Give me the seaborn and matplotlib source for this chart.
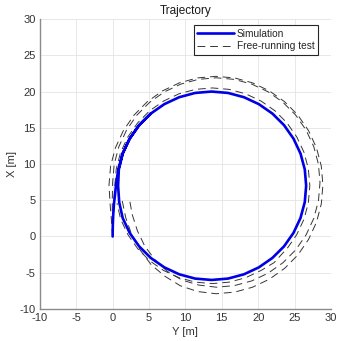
#!/usr/bin/env python3
"""Turning-circle trajectory: simulation against free-running tests."""

import matplotlib
matplotlib.use("Agg")
import matplotlib.pyplot as plt
import seaborn as sns

# simulation track (Y [m], X [m])
SIM_Y = [0.0, 0.02, 0.08, 0.18, 0.35, 0.5, 0.79, 1.38, 2.34, 3.64, 5.24, 7.1,
         9.15, 11.34, 13.6, 15.86, 18.05, 20.1, 21.96, 23.56, 24.86, 25.82,
         26.41, 26.6, 26.41, 25.82, 24.86, 23.56, 21.96, 20.1, 18.05, 15.86,
         13.6, 11.34, 9.15, 7.1, 5.24, 3.64, 2.34, 1.38, 0.9, 0.75, 0.85,
         1.38, 2.34, 3.64, 5.24]
SIM_X = [0.0, 1.5, 3.0, 4.5, 6.0, 7.5, 9.26, 11.45, 13.5, 15.36, 16.96, 18.26,
         19.22, 19.81, 20.0, 19.81, 19.22, 18.26, 16.96, 15.36, 13.5, 11.45,
         9.26, 7.0, 4.74, 2.55, 0.5, -1.36, -2.96, -4.26, -5.22, -5.81,
         -6.0, -5.81, -5.22, -4.26, -2.96, -1.36, 0.5, 2.55, 4.74, 7.0, 9.26,
         11.45, 13.5, 15.36, 16.96]

# free-running tests, three runs
RUN1_Y = [0.0, -0.15, -0.35, -0.5, -0.28, 0.38, 1.47, 2.94, 4.75, 6.85, 9.17,
          11.64, 14.2, 16.76, 19.23, 21.55, 23.65, 25.46, 26.93, 28.02, 28.68,
          28.9, 28.68, 28.02, 26.93, 25.46, 23.65, 21.55, 19.23, 16.76, 14.2,
          11.7, 9.3, 7.2, 5.3, 3.8, 2.6, 1.8, 1.3]
RUN1_X = [0.0, 2.0, 4.5, 7.1, 9.71, 12.23, 14.6, 16.75, 18.59, 20.09, 21.2,
          21.88, 22.1, 21.88, 21.2, 20.09, 18.59, 16.75, 14.6, 12.23, 9.71,
          7.1, 4.49, 1.97, -0.4, -2.55, -4.39, -5.89, -7.0, -7.68, -7.9,
          -7.6, -6.8, -5.5, -3.9, -1.9, 0.3, 2.6, 5.0]
RUN2_Y = [0.0, -0.05, -0.05, 0.0, 0.21, 0.85, 1.91, 3.33, 5.09, 7.12, 9.38,
          11.77, 14.25, 16.73, 19.12, 21.38, 23.41, 25.17, 26.59, 27.65, 28.29,
          28.5, 28.29, 27.65, 26.59, 25.17, 23.41, 21.38, 19.12, 16.73, 14.25,
          11.8, 9.5, 7.5, 5.8, 4.4, 3.4, 2.7, 2.3]
RUN2_X = [0.0, 2.5, 5.0, 7.45, 9.96, 12.39, 14.68, 16.74, 18.52, 19.96, 21.03,
          21.68, 21.9, 21.68, 21.03, 19.96, 18.52, 16.74, 14.68, 12.39, 9.96,
          7.45, 4.94, 2.51, 0.22, -1.84, -3.62, -5.06, -6.13, -6.78, -7.0,
          -6.7, -6.0, -4.8, -3.2, -1.3, 0.8, 3.0, 5.2]
RUN3_Y = [0.0, 0.1, 0.2, 0.3, 0.5, 1.1, 2.1, 3.44, 5.08, 7.0, 9.12, 11.37,
          13.7, 16.03, 18.28, 20.4, 22.32, 23.96, 25.3, 26.3, 26.9, 27.1, 26.9,
          26.3, 25.3, 24.1, 22.2, 20.4, 18.28, 16.03, 13.7, 11.37, 9.12, 7.0,
          5.08, 3.44, 2.1, 1.1, 0.6]
RUN3_X = [0.0, 2.5, 5.0, 7.0, 9.35, 11.62, 13.75, 15.68, 17.34, 18.69, 19.69,
          20.3, 20.5, 20.3, 19.69, 18.69, 17.34, 15.68, 13.75, 11.62, 9.35,
          7.0, 4.65, 2.38, 0.25, -1.5, -3.6, -4.69, -5.69, -6.3, -6.5, -6.3,
          -5.69, -4.69, -3.34, -1.68, 0.25, 2.38, 4.6]

TICKS = [-10, -5, 0, 5, 10, 15, 20, 25, 30]

sns.set_style("white")
plt.rcParams["font.family"] = ["Liberation Sans", "DejaVu Sans"]
plt.rcParams["axes.unicode_minus"] = False

fig, ax = plt.subplots(figsize=(3.38, 3.41), dpi=100)
fig.subplots_adjust(left=0.118, right=0.979, bottom=0.094, top=0.944)

runs = [(RUN1_Y, RUN1_X), (RUN2_Y, RUN2_X), (RUN3_Y, RUN3_X)]
for i, (ys, xs) in enumerate(runs):
    sns.lineplot(x=ys, y=xs, sort=False, estimator=None, ax=ax,
                 color="#353535", lw=0.7,
                 label="Free-running test" if i == 0 else None)
    ax.lines[-1].set_dashes([8, 5])

sns.lineplot(x=SIM_Y, y=SIM_X, sort=False, estimator=None, ax=ax,
             color="#0000e6", lw=1.9, label="Simulation")

ax.set_xlim(-10, 30)
ax.set_ylim(-10, 30)
ax.set_xticks(TICKS)
ax.set_yticks(TICKS)
ax.grid(True, color="#e4e4e4", lw=0.6)
ax.set_axisbelow(True)
for side in ("top", "right"):
    ax.spines[side].set_visible(False)
for side in ("left", "bottom"):
    ax.spines[side].set_color("#8a8a8a")
    ax.spines[side].set_linewidth(1.0)
ax.tick_params(direction="in", length=3, width=0.6, color="#8a8a8a",
               labelsize=8, labelcolor="#333333", pad=3)

ax.set_title("Trajectory", fontsize=8.5, color="#1a1a1a", pad=4)
ax.set_xlabel("Y [m]", fontsize=8, color="#333333", labelpad=3)
ax.set_ylabel("X [m]", fontsize=8, color="#333333", labelpad=2)

handles, labels = ax.get_legend_handles_labels()
order = [labels.index("Simulation"), labels.index("Free-running test")]
leg = ax.legend([handles[k] for k in order], [labels[k] for k in order],
                loc="upper right", bbox_to_anchor=(318 / 338, 1 - 25 / 341),
                bbox_transform=fig.transFigure, fontsize=7.3, frameon=True,
                fancybox=False, edgecolor="#262626", framealpha=1,
                borderpad=0.35, handlelength=3.6, handletextpad=0.3,
                labelspacing=0.25, borderaxespad=0)
leg.get_frame().set_linewidth(0.8)

fig.savefig("out.png", dpi=100)
